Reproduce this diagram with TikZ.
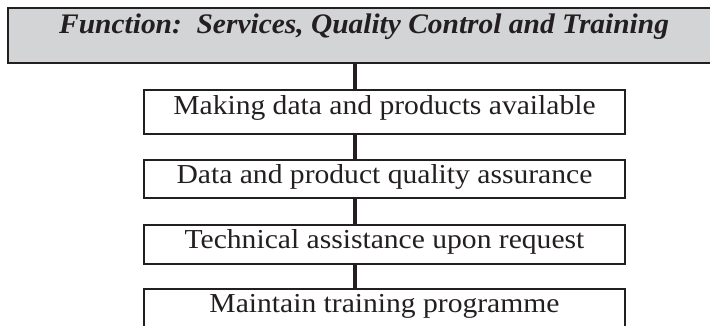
\documentclass[tikz,border=0pt]{standalone}
\usepackage{fontspec}
\setmainfont{Liberation Serif}
\newfontfamily\itemfont[FakeStretch=1.08]{Liberation Serif}
\newfontfamily\titlefont[FakeStretch=1.04]{Liberation Serif}
\definecolor{boxgray}{HTML}{D3D4D6}
\definecolor{ink}{HTML}{231F20}
\begin{document}
\begin{tikzpicture}[x=1pt,y=-1pt,
  titlebox/.style={draw=ink,line width=2.2pt,fill=boxgray,inner xsep=0pt,inner ysep=0pt,
    minimum width=712pt,text height=25pt,text depth=30pt,
    font=\titlefont\fontsize{28.3}{30}\selectfont\bfseries\itshape,text=ink},
  itembox/.style={draw=ink,line width=2pt,fill=white,inner xsep=0pt,inner ysep=0pt,
    minimum width=481pt,font=\itemfont\fontsize{27.4}{29}\selectfont,text=ink},
  link/.style={draw=ink,line width=4pt}]
\useasboundingbox (0,0) rectangle (710,326);
\clip (0,0) rectangle (710,326);
\node[titlebox,anchor=north west] (title) at (7,7) {Function:\ \ Services, Quality Control and Training};
\node[itembox,anchor=north west,text height=25pt,text depth=19pt] (b1) at (143,89) {Making data and products available};
\node[itembox,anchor=north west,text height=24pt,text depth=14pt] (b2) at (143,159) {Data and product quality assurance};
\node[itembox,anchor=north west,text height=23pt,text depth=16pt] (b3) at (143,224) {Technical assistance upon request};
\node[itembox,anchor=north west,text height=23pt,text depth=16pt] (b4) at (143,288) {Maintain training programme};
\coordinate (cx) at (355,0);
\draw[link] (title.south -| cx) -- (b1.north -| cx);
\draw[link] (b1.south -| cx) -- (b2.north -| cx);
\draw[link] (b2.south -| cx) -- (b3.north -| cx);
\draw[link] (b3.south -| cx) -- (b4.north -| cx);
\end{tikzpicture}
\end{document}
